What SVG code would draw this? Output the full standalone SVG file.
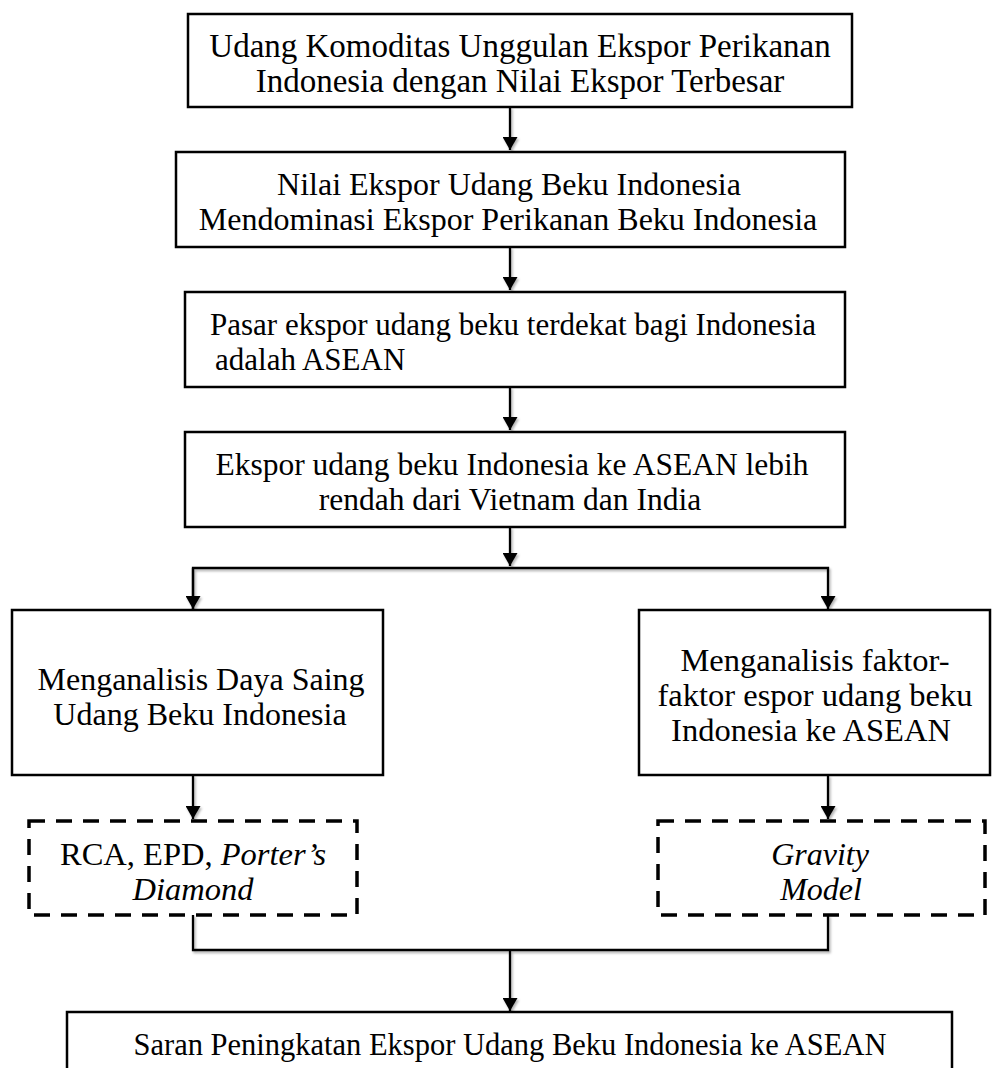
<svg xmlns="http://www.w3.org/2000/svg" width="992" height="1068" viewBox="0 0 992 1068">
<style>
.box{fill:#fff;stroke:#000;stroke-width:2.5}
.dash{fill:#fff;stroke:#000;stroke-width:3.5;stroke-dasharray:16 11}
.t{font-family:"Liberation Serif","Times New Roman",serif;font-size:31.5px;fill:#000;text-anchor:middle}
.i{font-style:italic}
.c{fill:none;stroke:#000;stroke-width:2.3}
</style>
<defs>
<marker id="ah" viewBox="0 0 13 15" refX="13" refY="7.5" markerWidth="13" markerHeight="15" markerUnits="userSpaceOnUse" orient="auto">
<path d="M0,0 L13,7.5 L0,15 Z" fill="#000"/>
</marker>
<filter id="sh" x="-10%" y="-10%" width="120%" height="120%">
<feDropShadow dx="1.5" dy="2" stdDeviation="1" flood-color="#000" flood-opacity="0.3"/>
</filter>
</defs>
<g id="connectors" filter="url(#sh)">
<path class="c" d="M510,107 V150" marker-end="url(#ah)"/>
<path class="c" d="M510,247 V290" marker-end="url(#ah)"/>
<path class="c" d="M510,387 V430" marker-end="url(#ah)"/>
<path class="c" d="M510,527 V566" marker-end="url(#ah)"/>
<path class="c" d="M193,609 V568 H828 V609" marker-end="url(#ah)"/>
<path class="c" d="M193,568 V609" marker-end="url(#ah)"/>
<path class="c" d="M193,775 V819" marker-end="url(#ah)"/>
<path class="c" d="M828,775 V819" marker-end="url(#ah)"/>
<path class="c" d="M193,915 V950 H828 V915"/>
<path class="c" d="M510,950 V1011" marker-end="url(#ah)"/>
</g>
<g id="n1">
<rect class="box" x="188" y="14" width="664" height="93"/>
<text class="t" x="520" y="57" style="font-size:33px">Udang Komoditas Unggulan Ekspor Perikanan</text>
<text class="t" x="520" y="92" style="font-size:33px">Indonesia dengan Nilai Ekspor Terbesar</text>
</g>
<g id="n2">
<rect class="box" x="176" y="152" width="669" height="95"/>
<text class="t" x="509" y="195" style="font-size:32px">Nilai Ekspor Udang Beku Indonesia</text>
<text class="t" x="508" y="230" style="font-size:32px">Mendominasi Ekspor Perikanan Beku Indonesia</text>
</g>
<g id="n3">
<rect class="box" x="185" y="292" width="660" height="95"/>
<text class="t" x="513" y="335" style="font-size:31px">Pasar ekspor udang beku terdekat bagi Indonesia</text>
<text class="t" x="215" y="370" style="text-anchor:start;font-size:31px">adalah ASEAN</text>
</g>
<g id="n4">
<rect class="box" x="185" y="432" width="660" height="95"/>
<text class="t" x="512" y="475">Ekspor udang beku Indonesia ke ASEAN lebih</text>
<text class="t" x="510" y="510">rendah dari Vietnam dan India</text>
</g>
<g id="n5">
<rect class="box" x="12" y="610" width="371" height="165"/>
<text class="t" x="201" y="690" style="font-size:32px">Menganalisis Daya Saing</text>
<text class="t" x="200" y="725" style="font-size:32px">Udang Beku Indonesia</text>
</g>
<g id="n6">
<rect class="box" x="639" y="610" width="351" height="165"/>
<text class="t" x="815" y="671" style="font-size:32.5px">Menganalisis faktor-</text>
<text class="t" x="815" y="706" style="font-size:32.5px">faktor espor udang beku</text>
<text class="t" x="811" y="741" style="font-size:32.5px">Indonesia ke ASEAN</text>
</g>
<g id="n7">
<rect class="dash" x="29" y="821" width="328" height="94"/>
<text class="t" x="193" y="865" style="font-size:32.5px">RCA, EPD, <tspan class="i">Porter’s</tspan></text>
<text class="t i" x="193" y="900" style="font-size:32.5px">Diamond</text>
</g>
<g id="n8">
<rect class="dash" x="658" y="821" width="327" height="94"/>
<text class="t i" x="820" y="865" style="font-size:32px">Gravity</text>
<text class="t i" x="821" y="900" style="font-size:32px">Model</text>
</g>
<g id="n9">
<rect class="box" x="67" y="1012" width="885" height="70"/>
<text class="t" x="510" y="1055" style="font-size:30.5px">Saran Peningkatan Ekspor Udang Beku Indonesia ke ASEAN</text>
</g>
</svg>
